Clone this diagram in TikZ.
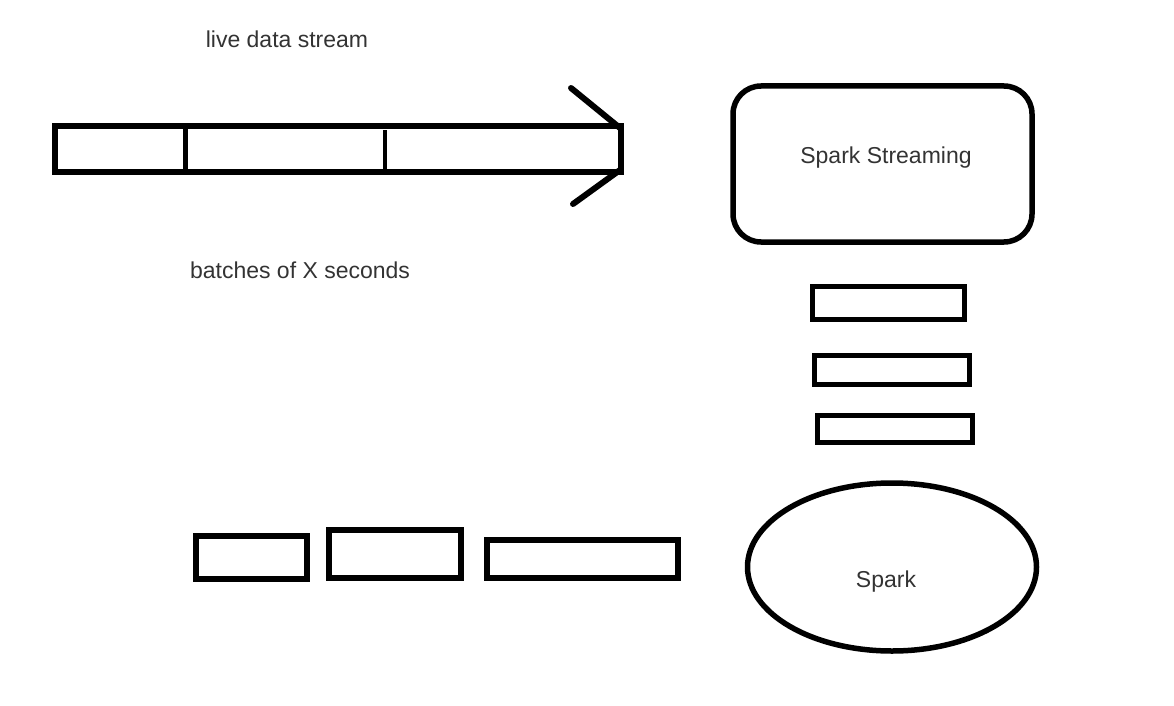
\documentclass[tikz,border=0pt]{standalone}
\usepackage{fontspec}
\setmainfont{Liberation Sans}
\usetikzlibrary{shapes.geometric}
\begin{document}
\begin{tikzpicture}[x=1pt,y=-1pt,
  stroke/.style={draw=black, line width=5.5pt},
  box/.style={stroke, rectangle, inner sep=0pt, outer sep=0pt},
  lbl/.style={text=black!80, font=\fontsize{23}{27}\selectfont, inner sep=0pt}]
\useasboundingbox (0,0) rectangle (1174,706);
% live data stream
\node[lbl] (t1) at (287,39) {live data stream};
\node[box, minimum width=566pt, minimum height=46pt] (bar) at (338,149) {};
\coordinate (d1t) at (185,126); \coordinate (d1b) at (185,172);
\coordinate (d2t) at (385,130); \coordinate (d2b) at (385,172);
\draw[stroke, line width=5pt] (d1t) -- (d1b);
\draw[stroke, line width=4.5pt] (d2t) -- (d2b);
\coordinate (ha) at (571,88); \coordinate (hb) at (620,128);
\coordinate (hc) at (620,170); \coordinate (hd) at (573,204);
\draw[stroke, line width=6pt, line cap=round] (ha) -- (hb);
\draw[stroke, line width=6pt, line cap=round] (hc) -- (hd);
\node[lbl] (t2) at (300,270) {batches of X seconds};
% Spark Streaming
\node[stroke, rectangle, rounded corners=28pt, minimum width=299pt, minimum height=156pt, inner sep=0pt] (ss) at (882.5,164) {};
\node[lbl] (sst) at (886,158) {Spark Streaming};
% batches
\node[box, line width=5pt, minimum width=152pt, minimum height=33pt] (r1) at (888,303) {};
\node[box, line width=5pt, minimum width=155pt, minimum height=29pt] (r2) at (891.5,369.5) {};
\node[box, line width=5pt, minimum width=155pt, minimum height=27pt] (r3) at (894.5,428.5) {};
% Spark
\node[stroke, ellipse, minimum width=289pt, minimum height=168pt, inner sep=0pt] (sp) at (892,567) {};
\node[lbl] (spt) at (886,582) {Spark};
% bottom batches
\node[box, minimum width=111pt, minimum height=43pt] (b1) at (251.5,557.5) {};
\node[box, minimum width=132pt, minimum height=48pt] (b2) at (395,554) {};
\node[box, minimum width=191pt, minimum height=38pt] (b3) at (582.5,559) {};
\end{tikzpicture}
\end{document}
